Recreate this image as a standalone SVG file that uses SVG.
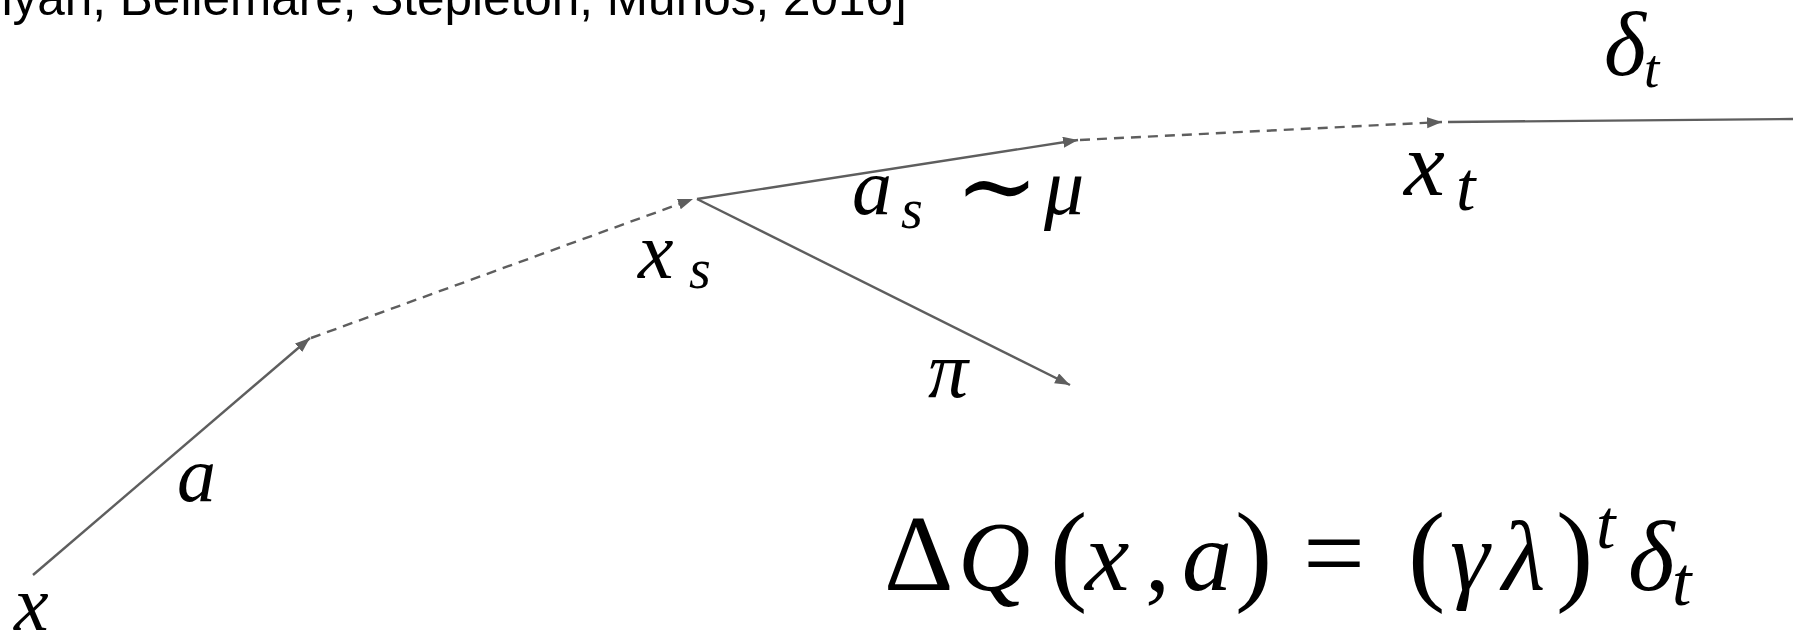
<svg xmlns="http://www.w3.org/2000/svg" width="1793" height="643" viewBox="0 0 1793 643">
  <style>
    .cite { font-family: "Liberation Sans", Arial, sans-serif; font-size: 49.5px; fill: #000; }
    .m { font-family: "Liberation Serif", "DejaVu Serif", serif; font-style: italic; fill: #000; }
    .up { font-style: normal; }
    .edge { fill: none; stroke: #5e5e5e; stroke-width: 2.4; }
    .dash { stroke-dasharray: 10 7; }
  </style>
  <defs>
    <marker id="arr" markerUnits="userSpaceOnUse" markerWidth="16" markerHeight="12" refX="15" refY="5.5" orient="auto">
      <path d="M0,0 L15,5.5 L0,11 z" fill="#5e5e5e"/>
    </marker>
  </defs>
  <rect width="1793" height="643" fill="#fff"/>

  <text class="cite" x="-15" y="15">nyan, Bellemare, Stepleton, Munos, 2016]</text>

  <g id="connectors">
    <line class="edge" x1="33" y1="575" x2="310" y2="338" marker-end="url(#arr)"/>
    <line class="edge dash" x1="311" y1="338" x2="693" y2="199" marker-end="url(#arr)"/>
    <line class="edge" x1="697" y1="199" x2="1078" y2="140" marker-end="url(#arr)"/>
    <line class="edge" x1="697" y1="199" x2="1070" y2="385" marker-end="url(#arr)"/>
    <line class="edge dash" x1="1080" y1="140" x2="1442" y2="122" marker-end="url(#arr)"/>
    <line class="edge" x1="1448" y1="122" x2="1793" y2="119"/>
  </g>

  <g id="node-x">
    <text class="m" x="14" y="630" font-size="78">x</text>
  </g>
  <g id="label-a">
    <text class="m" x="177" y="501" font-size="78">a</text>
  </g>
  <g id="node-xs">
    <text class="m" x="638" y="278" font-size="80">x<tspan x="689" y="288" font-size="56">s</tspan></text>
  </g>
  <g id="label-as-mu">
    <text class="m" x="852" y="214" font-size="80">a<tspan x="901" y="228" font-size="56">s</tspan><tspan class="up" x="955" y="220" font-size="100">∼</tspan><tspan x="1044" y="214" font-size="80">μ</tspan></text>
  </g>
  <g id="label-pi">
    <text class="m" x="928" y="397" font-size="80">π</text>
  </g>
  <g id="node-xt">
    <text class="m" x="1404" y="195" font-size="92">x<tspan x="1456" y="210" font-size="70">t</tspan></text>
  </g>
  <g id="label-delta-t">
    <text class="m" x="1604" y="75" font-size="90">δ<tspan x="1644" y="87" font-size="55">t</tspan></text>
  </g>

  <g id="equation">
    <text class="m" y="590" font-size="100"><tspan class="up" x="884" font-size="108">Δ</tspan><tspan x="958">Q</tspan><tspan class="up" x="1050" font-size="112">(</tspan><tspan x="1085">x</tspan><tspan class="up" x="1145">,</tspan><tspan x="1182">a</tspan><tspan class="up" x="1235" font-size="112">)</tspan><tspan class="up" x="1303" font-size="110">=</tspan><tspan class="up" x="1408" font-size="112">(</tspan><tspan x="1450">γ</tspan><tspan x="1502">λ</tspan><tspan class="up" x="1556" font-size="112">)</tspan><tspan x="1596" y="548" font-size="70">t</tspan><tspan x="1628" y="590">δ</tspan><tspan x="1672" y="605" font-size="70">t</tspan></text>
  </g>
</svg>
